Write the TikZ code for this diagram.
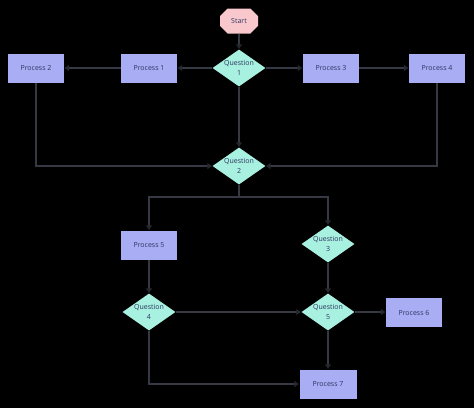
\documentclass[tikz,border=0pt]{standalone}
\usepackage{fontspec}
\setmainfont{Open Sans}
\usetikzlibrary{shapes.geometric,shapes.misc,arrows.meta}
\definecolor{bg}{HTML}{000000}
\definecolor{procfill}{HTML}{A8ADF4}
\definecolor{qfill}{HTML}{A8F0DF}
\definecolor{startfill}{HTML}{F8C8CC}
\definecolor{txt}{HTML}{2D3561}
\definecolor{linec}{HTML}{363943}
\definecolor{tipc}{HTML}{25272E}
\tikzset{
  base/.style={font=\fontsize{7}{10}\selectfont, text=txt, align=center, inner sep=0pt},
  procbox/.style={base, rectangle, fill=procfill, minimum width=56pt, minimum height=29pt},
  qbox/.style={base, diamond, fill=qfill, minimum width=53pt, minimum height=37pt},
  startbox/.style={base, chamfered rectangle, chamfered rectangle xsep=5pt, chamfered rectangle ysep=5pt, fill=startfill, minimum width=38pt, minimum height=25pt},
  conn/.style={draw=linec, line width=2.8pt, -{Latex[length=5pt,width=7pt,color=tipc]}},
  qlabel/.style={label={[base]center:#1}}
}
\begin{document}
\begin{tikzpicture}[x=1pt,y=-1pt]
\fill[bg] (0,0) rectangle (474,408);
\useasboundingbox (0,0) rectangle (474,408);
\node[startbox] (start) at (239,21) {Start};
\node[qbox, qlabel={Question\\1}] (q1) at (239,68) {};
\node[procbox] (p1) at (149,68) {Process 1};
\node[procbox] (p2) at (36,68) {Process 2};
\node[procbox] (p3) at (331,68) {Process 3};
\node[procbox] (p4) at (437,68) {Process 4};
\node[qbox, qlabel={Question\\2}] (q2) at (239,166) {};
\coordinate (split) at (239,197);
\node[procbox] (p5) at (149,245) {Process 5};
\node[qbox, qlabel={Question\\3}] (q3) at (328,244) {};
\node[qbox, qlabel={Question\\4}] (q4) at (149,312) {};
\node[qbox, qlabel={Question\\5}] (q5) at (328,312) {};
\node[procbox] (p6) at (414,312.5) {Process 6};
\node[procbox, minimum width=57pt] (p7) at (328,384) {Process 7};

\draw[conn] (start.south) -- (q1.north);
\draw[conn] (q1.west) -- (p1.east);
\draw[conn] (p1.west) -- (p2.east);
\draw[conn] (q1.east) -- (p3.west);
\draw[conn] (p3.east) -- (p4.west);
\draw[conn] (q1.south) -- (q2.north);
\draw[conn] (p2.south) |- (q2.west);
\draw[conn] (p4.south) |- (q2.east);
\draw[conn] (q2.south) -- (split) -| (p5.north);
\draw[conn] (split) -| (q3.north);
\draw[conn] (p5.south) -- (q4.north);
\draw[conn] (q3.south) -- (q5.north);
\draw[conn] (q4.east) -- (q5.west);
\draw[conn] (q5.east) -- (q5.east -| p6.west);
\draw[conn] (q5.south) -- (p7.north);
\draw[conn] (q4.south) |- (p7.west);
\end{tikzpicture}
\end{document}
